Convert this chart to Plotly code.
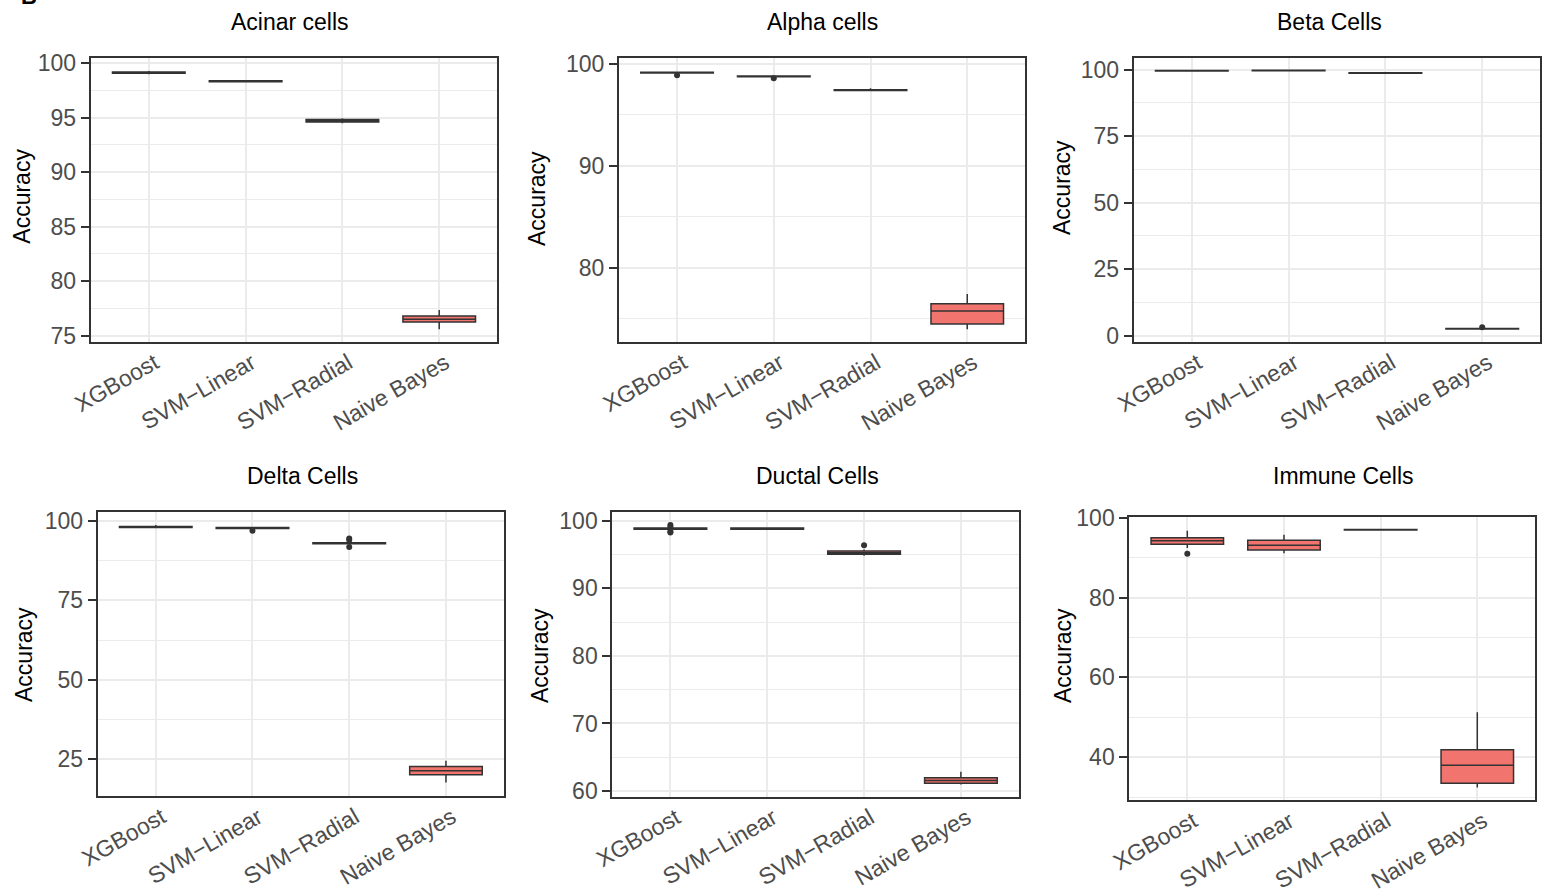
import plotly.graph_objects as go

W, H = 1543, 891

categories = ["XGBoost", "SVM\u2212Linear", "SVM\u2212Radial", "Naive Bayes"]

panel_titles = ["Acinar cells", "Alpha cells", "Beta Cells",
                "Delta Cells", "Ductal Cells", "Immune Cells"]

# ---- box statistics per panel (q1, median, q3, lower whisker, upper whisker) ----
acinar_q1 = [99.08, 98.30, 94.62, 76.25]
acinar_med = [99.14, 98.35, 94.72, 76.50]
acinar_q3 = [99.20, 98.40, 94.85, 76.80]
acinar_lo = [99.00, 98.25, 94.50, 75.60]
acinar_hi = [99.30, 98.45, 94.95, 77.35]
acinar_out_x = []
acinar_out_y = []

alpha_q1 = [99.08, 98.72, 97.38, 74.48]
alpha_med = [99.12, 98.76, 97.42, 75.75]
alpha_q3 = [99.16, 98.80, 97.46, 76.47]
alpha_lo = [99.05, 98.70, 97.30, 73.96]
alpha_hi = [99.20, 98.82, 97.60, 77.42]
alpha_out_x = ["XGBoost", "SVM\u2212Linear"]
alpha_out_y = [98.86, 98.57]

beta_q1 = [99.50, 99.60, 98.65, 2.50]
beta_med = [99.60, 99.70, 98.75, 2.60]
beta_q3 = [99.70, 99.80, 98.85, 2.70]
beta_lo = [99.40, 99.50, 98.55, 2.40]
beta_hi = [99.80, 99.90, 98.95, 2.80]
beta_out_x = ["Naive Bayes"]
beta_out_y = [3.2]

delta_q1 = [97.95, 97.60, 92.85, 20.1]
delta_med = [98.10, 97.80, 93.00, 21.4]
delta_q3 = [98.25, 97.95, 93.15, 22.7]
delta_lo = [97.70, 97.40, 92.60, 17.7]
delta_hi = [98.70, 98.10, 93.40, 24.5]
delta_out_x = ["SVM\u2212Linear", "SVM\u2212Radial", "SVM\u2212Radial", "SVM\u2212Radial"]
delta_out_y = [96.9, 94.5, 94.0, 91.8]

ductal_q1 = [98.75, 98.75, 95.03, 61.15]
ductal_med = [98.82, 98.82, 95.25, 61.55]
ductal_q3 = [98.90, 98.90, 95.50, 61.98]
ductal_lo = [98.70, 98.70, 94.80, 60.95]
ductal_hi = [98.95, 99.00, 95.75, 62.85]
ductal_out_x = ["XGBoost", "XGBoost", "XGBoost", "XGBoost", "SVM\u2212Radial"]
ductal_out_y = [99.35, 99.10, 98.40, 98.25, 96.36]

immune_q1 = [93.34, 91.90, 96.95, 33.5]
immune_med = [94.24, 93.10, 97.00, 38.0]
immune_q3 = [94.99, 94.34, 97.05, 41.9]
immune_lo = [92.40, 91.10, 96.90, 32.4]
immune_hi = [96.75, 95.75, 97.10, 51.3]
immune_out_x = ["XGBoost"]
immune_out_y = [91.0]

stats = [
    (acinar_q1, acinar_med, acinar_q3, acinar_lo, acinar_hi, acinar_out_x, acinar_out_y),
    (alpha_q1, alpha_med, alpha_q3, alpha_lo, alpha_hi, alpha_out_x, alpha_out_y),
    (beta_q1, beta_med, beta_q3, beta_lo, beta_hi, beta_out_x, beta_out_y),
    (delta_q1, delta_med, delta_q3, delta_lo, delta_hi, delta_out_x, delta_out_y),
    (ductal_q1, ductal_med, ductal_q3, ductal_lo, ductal_hi, ductal_out_x, ductal_out_y),
    (immune_q1, immune_med, immune_q3, immune_lo, immune_hi, immune_out_x, immune_out_y),
]

# ---- layout: axis ranges/ticks and pixel boxes ----
y_ranges = [[74.45, 100.51], [72.75, 100.59], [-2.26, 104.5],
            [13.44, 102.9], [59.16, 101.24], [29.3, 100.25]]
y_tick0 = [75, 80, 0, 25, 60, 40]
y_dtick = [5, 10, 25, 25, 10, 20]

# panel pixel boxes: x0, x1, y0(top), y1(bottom)
boxes = [(90.7, 497.3, 57.7, 341.7), (619.0, 1025.3, 57.7, 341.7),
         (1133.7, 1540.3, 57.7, 341.7), (97.7, 504.0, 511.7, 796.0),
         (612.3, 1019.0, 512.3, 796.7), (1129.3, 1535.3, 516.7, 800.0)]
title_pos = [(290, 22), (822, 22), (1329, 22), (302.5, 476), (817.5, 476), (1343, 476)]
ytitle_pos = [(21.7, 196), (537, 199), (1062, 188), (24, 655), (540, 656), (1063, 656)]

FONT = "Liberation Sans, Arial, Helvetica, sans-serif"
FILL = "#F1746E"
DARK = "#333333"
GRID = "#EBEBEB"

fig = go.Figure()
layout = dict(width=W, height=H, margin=dict(l=0, r=0, t=0, b=0, autoexpand=False),
              paper_bgcolor="white", plot_bgcolor="white", showlegend=False,
              font=dict(family=FONT), template="none")
annotations = []

for i, (q1, med, q3, lo, hi, ox, oy) in enumerate(stats):
    n = i + 1
    xa = "x" if n == 1 else f"x{n}"
    ya = "y" if n == 1 else f"y{n}"
    fig.add_trace(go.Box(
        x=categories, q1=q1, median=med, q3=q3, lowerfence=lo, upperfence=hi,
        xaxis=xa, yaxis=ya, width=0.75, whiskerwidth=0,
        fillcolor=FILL, line=dict(color=DARK, width=1.5),
        boxpoints=False, hoverinfo="skip"))
    if ox:
        fig.add_trace(go.Scatter(
            x=ox, y=oy, mode="markers", xaxis=xa, yaxis=ya,
            marker=dict(color=DARK, size=6), hoverinfo="skip"))
    x0, x1, yt, yb = boxes[i]
    layout["xaxis" if n == 1 else f"xaxis{n}"] = dict(
        domain=[x0 / W, x1 / W], anchor=ya, type="category",
        categoryorder="array", categoryarray=categories,
        range=[-0.6, 3.6], showgrid=True, gridcolor=GRID, gridwidth=2,
        showline=True, mirror=True, linecolor=DARK, linewidth=2,
        ticks="", tickangle=-30, automargin=False,
        ticklabelshift=6, ticklabelstandoff=-3,
        tickfont=dict(family=FONT, size=23, color="#4D4D4D"),
        zeroline=False, fixedrange=True)
    layout["yaxis" if n == 1 else f"yaxis{n}"] = dict(
        domain=[1 - yb / H, 1 - yt / H], anchor=xa, automargin=False,
        range=y_ranges[i], tick0=y_tick0[i], dtick=y_dtick[i],
        showgrid=True, gridcolor=GRID, gridwidth=2,
        minor=dict(tick0=y_tick0[i], dtick=y_dtick[i] / 2, showgrid=True,
                   gridcolor=GRID, gridwidth=1, ticks=""),
        showline=True, mirror=True, linecolor=DARK, linewidth=2,
        ticks="outside", ticklen=8, tickwidth=2, tickcolor=DARK,
        tickfont=dict(family=FONT, size=23, color="#4D4D4D"),
        zeroline=False, fixedrange=True)
    tx, ty = title_pos[i]
    annotations.append(dict(text=panel_titles[i], x=tx / W, y=1 - ty / H,
                            xref="paper", yref="paper", xanchor="center", yanchor="middle",
                            showarrow=False, font=dict(family=FONT, size=23, color="black")))
    ax_, ay_ = ytitle_pos[i]
    annotations.append(dict(text="Accuracy", x=ax_ / W, y=1 - ay_ / H,
                            xref="paper", yref="paper", xanchor="center", yanchor="middle",
                            textangle=-90, showarrow=False,
                            font=dict(family=FONT, size=23, color="black")))

annotations.append(dict(text="<b>B</b>", x=29 / W, y=1 + 4 / H, xref="paper", yref="paper",
                        xanchor="center", yanchor="middle", showarrow=False,
                        font=dict(family=FONT, size=22, color="black")))
layout["annotations"] = annotations
fig.update_layout(**layout)
fig.write_html("out.html", config={"displayModeBar": False},
               post_script="document.body.style.margin='0';document.body.style.overflow='hidden';")
